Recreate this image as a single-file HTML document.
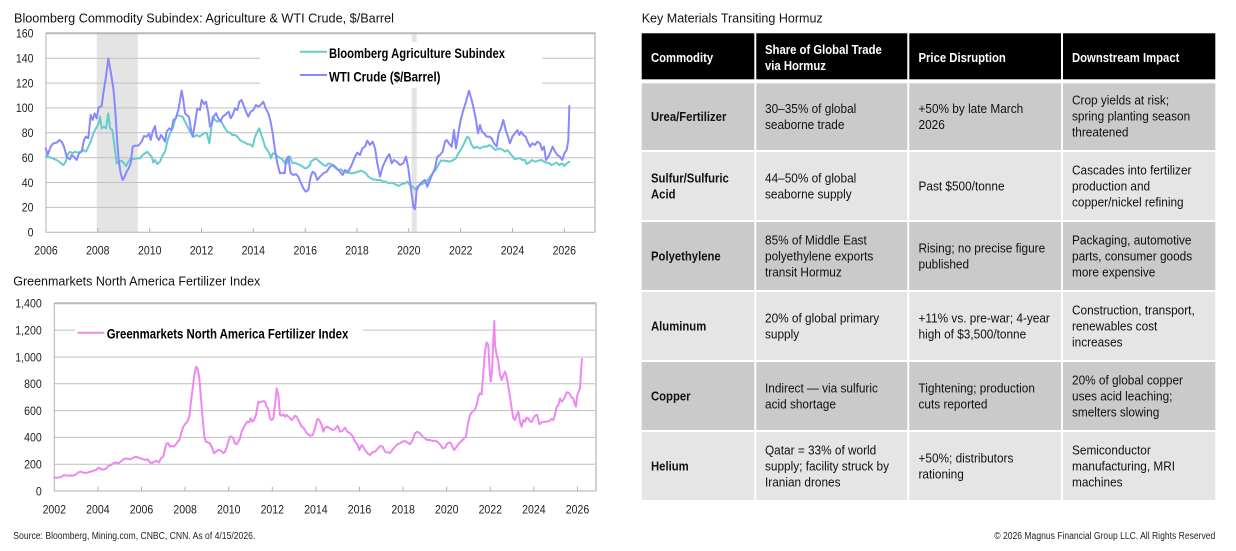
<!DOCTYPE html>
<html>
<head>
<meta charset="utf-8">
<style>
html,body{margin:0;padding:0;background:#fff;}
svg{display:block;}
text{font-family:"Liberation Sans",Arial,sans-serif;}
.ax{font-size:12px;fill:#222;}
.ln{fill:none;stroke-width:6;stroke-linejoin:round;stroke-linecap:round;}
.tb{font-size:13px;fill:#111;}
.tbb{font-size:13px;fill:#111;font-weight:bold;}
.th{font-size:13px;fill:#fff;font-weight:bold;}
</style>
</head>
<body>
<svg width="1236" height="551" viewBox="0 0 1236 551">
<rect width="1236" height="551" fill="#fff"/>

<!-- ============ TOP CHART ============ -->
<text x="14" y="22.7" font-size="13" fill="#111" textLength="380" lengthAdjust="spacingAndGlyphs">Bloomberg Commodity Subindex: Agriculture  &amp; WTI Crude, $/Barrel</text>

<!-- shading -->
<rect x="96.7" y="33.3" width="41" height="199" fill="#e4e4e4"/>
<rect x="411.7" y="33.3" width="5" height="199" fill="#e4e4e4"/>

<!-- gridlines -->
<g stroke="#c0c0c0" stroke-width="1">
<line x1="46" y1="58.2" x2="595" y2="58.2"/>
<line x1="46" y1="83.1" x2="595" y2="83.1"/>
<line x1="46" y1="107.9" x2="595" y2="107.9"/>
<line x1="46" y1="132.8" x2="595" y2="132.8"/>
<line x1="46" y1="157.7" x2="595" y2="157.7"/>
<line x1="46" y1="182.5" x2="595" y2="182.5"/>
<line x1="46" y1="207.4" x2="595" y2="207.4"/>
</g>
<line x1="46" y1="33.3" x2="596" y2="33.3" stroke="#b8b8b8" stroke-width="2"/>
<line x1="595" y1="33" x2="595" y2="232.3" stroke="#d0d0d0" stroke-width="2"/>
<line x1="46" y1="33" x2="46" y2="232.3" stroke="#b0b0b0" stroke-width="1"/>
<line x1="46" y1="232.3" x2="595" y2="232.3" stroke="#b0b0b0" stroke-width="1"/>
<g stroke="#b0b0b0" stroke-width="1">
<line x1="97.8" y1="228" x2="97.8" y2="232.3"/><line x1="149.7" y1="228" x2="149.7" y2="232.3"/>
<line x1="201.5" y1="228" x2="201.5" y2="232.3"/><line x1="253.3" y1="228" x2="253.3" y2="232.3"/>
<line x1="305.2" y1="228" x2="305.2" y2="232.3"/><line x1="357" y1="228" x2="357" y2="232.3"/>
<line x1="408.8" y1="228" x2="408.8" y2="232.3"/><line x1="460.7" y1="228" x2="460.7" y2="232.3"/>
<line x1="512.5" y1="228" x2="512.5" y2="232.3"/><line x1="564.3" y1="228" x2="564.3" y2="232.3"/>
</g>

<!-- legend box -->
<rect x="260" y="42" width="282" height="46" fill="#fff"/>

<!-- y labels -->
<g class="ax" text-anchor="end">
<text transform="translate(33.5,37.6) scale(.88,1)">160</text>
<text transform="translate(33.5,62.5) scale(.88,1)">140</text>
<text transform="translate(33.5,87.4) scale(.88,1)">120</text>
<text transform="translate(33.5,112.2) scale(.88,1)">100</text>
<text transform="translate(33.5,137.1) scale(.88,1)">80</text>
<text transform="translate(33.5,162) scale(.88,1)">60</text>
<text transform="translate(33.5,186.8) scale(.88,1)">40</text>
<text transform="translate(33.5,211.7) scale(.88,1)">20</text>
<text transform="translate(33.5,236.6) scale(.88,1)">0</text>
</g>
<!-- x labels -->
<g class="ax" text-anchor="middle">
<text transform="translate(46,254.5) scale(.88,1)">2006</text>
<text transform="translate(97.8,254.5) scale(.88,1)">2008</text>
<text transform="translate(149.7,254.5) scale(.88,1)">2010</text>
<text transform="translate(201.5,254.5) scale(.88,1)">2012</text>
<text transform="translate(253.3,254.5) scale(.88,1)">2014</text>
<text transform="translate(305.2,254.5) scale(.88,1)">2016</text>
<text transform="translate(357,254.5) scale(.88,1)">2018</text>
<text transform="translate(408.8,254.5) scale(.88,1)">2020</text>
<text transform="translate(460.7,254.5) scale(.88,1)">2022</text>
<text transform="translate(512.5,254.5) scale(.88,1)">2024</text>
<text transform="translate(564.3,254.5) scale(.88,1)">2026</text>
</g>

<!-- series: teal (agri) -->
<g transform="scale(0.333333)">
<polyline class="ln" stroke="#66cccc" points="137,470 150,472 165,478 175,483 183,490 190,495 197,485 203,465 210,455 218,460 225,455 235,458 242,455 250,450 258,455 265,440 272,425 280,400 288,385 296,370 300,350 305,385 312,380 318,385 325,340 330,385 337,390 345,450 350,490 357,485 365,482 372,490 378,498 385,485 392,475 400,478 410,475 420,475 428,465 435,460 442,455 450,465 455,470 460,488 465,480 472,492 480,485 487,468 495,455 503,420 510,400 518,385 525,360 532,345 540,348 548,350 555,365 562,378 570,395 577,405 583,410 590,405 598,410 605,405 612,400 620,398 628,430 632,400 638,350 645,360 652,365 660,360 667,370 675,385 682,395 690,398 697,405 705,405 712,410 720,420 728,425 735,428 742,432 750,433 758,440 765,410 772,395 778,385 782,400 788,415 795,440 802,450 808,460 813,475 818,460 825,462 832,468 840,474 847,478 855,490 860,490 866,470 870,470 877,490 885,488 892,492 900,495 908,500 915,505 922,503 930,495 932,488"/>
</g>
<g transform="translate(300,0) scale(0.333333)">
<polyline class="ln" stroke="#66cccc" points="32,485 40,480 48,475 55,482 62,488 70,495 78,498 85,490 93,492 100,498 108,505 115,510 123,508 130,514 138,518 145,518 155,520 165,518 175,515 182,512 190,515 198,520 205,530 213,535 220,538 230,540 240,540 250,545 258,545 265,550 272,548 280,550 290,555 297,558 305,552 315,550 322,545 330,555 338,560 345,568 352,560 360,555 370,550 380,545 390,530 398,520 408,508 415,495 422,482 430,482 440,483 450,485 460,480 468,475 475,460 482,450 490,435 497,420 502,410 508,415 515,435 522,445 530,440 540,445 550,440 560,440 568,435 576,440 585,450 592,448 600,445 608,450 616,455 622,450 630,460 637,468 645,478 652,475 660,475 667,480 675,480 680,492 688,488 695,480 705,485 715,482 725,480 732,485 740,488 748,490 755,495 762,492 770,488 778,495 786,490 793,498 800,490 808,485"/>
</g>
<!-- series: purple (WTI) -->
<g transform="scale(0.333333)">
<polyline class="ln" stroke="#8888ff" points="137,445 143,465 152,440 160,430 170,428 178,420 185,425 192,440 200,470 210,478 215,465 222,470 230,480 237,460 245,455 252,420 258,410 265,415 272,345 278,360 284,340 290,355 296,322 305,318 310,280 318,230 325,175 333,220 340,265 345,320 350,400 356,480 362,520 368,540 374,530 380,515 386,505 392,490 398,440 405,437 415,437 425,425 432,408 440,410 447,400 452,420 458,395 465,378 470,410 477,420 483,405 490,415 495,425 500,395 508,385 515,390 520,360 527,355 535,330 545,272 550,300 555,340 560,345 567,350 573,390 578,410 585,370 592,325 600,330 605,300 612,312 618,305 625,340 630,380 636,370 641,350 648,340 655,355 662,365 668,350 675,345 680,340 686,335 692,355 698,345 705,325 712,330 718,305 725,300 732,320 738,335 745,350 752,335 760,330 768,315 775,320 782,315 790,305 797,325 805,340 812,365 818,400 825,450 832,490 840,520 848,518 854,520 858,480 865,470 872,520 880,525 888,522 895,530 903,550 910,565 917,575 925,570 930,540 932,532"/>
</g>
<g transform="translate(300,0) scale(0.333333)">
<polyline class="ln" stroke="#8888ff" points="32,530 38,515 45,520 52,540 60,530 70,520 80,515 90,500 100,495 110,505 120,515 128,525 135,510 145,515 155,495 165,470 172,458 180,465 187,445 195,440 202,422 210,435 218,425 225,445 232,490 240,530 248,500 255,485 262,470 268,462 275,490 282,480 290,485 300,495 310,490 318,470 325,505 332,560 340,620 345,628 350,570 358,555 367,545 375,540 382,560 390,540 398,520 405,505 412,470 420,465 428,455 435,425 440,420 447,430 455,440 462,390 468,445 475,400 482,360 490,330 498,305 507,272 515,300 522,330 528,360 534,400 540,375 546,395 552,400 560,410 568,410 575,415 582,430 590,440 596,400 603,385 610,360 617,390 624,410 630,430 637,410 645,400 652,390 658,405 663,395 670,405 677,410 683,425 690,440 697,430 705,435 712,425 720,430 726,450 732,440 738,480 745,470 752,455 758,440 765,455 772,465 780,470 787,480 793,460 800,450 805,420 808,318"/>
</g>

<!-- legend -->
<line x1="300" y1="51.7" x2="327" y2="51.7" stroke="#66cccc" stroke-width="2"/>
<line x1="300" y1="75" x2="327" y2="75" stroke="#8888ff" stroke-width="2"/>
<text x="329" y="58" font-size="14" font-weight="bold" fill="#000" textLength="176" lengthAdjust="spacingAndGlyphs">Bloomberg Agriculture Subindex</text>
<text x="329" y="81.3" font-size="14" font-weight="bold" fill="#000" textLength="111.5" lengthAdjust="spacingAndGlyphs">WTI Crude ($/Barrel)</text>

<!-- ============ BOTTOM CHART ============ -->
<text x="13.3" y="285.7" font-size="13" fill="#111" textLength="247" lengthAdjust="spacingAndGlyphs">Greenmarkets North America Fertilizer Index</text>

<g stroke="#c0c0c0" stroke-width="1">
<line x1="54.3" y1="330.1" x2="596" y2="330.1"/>
<line x1="54.3" y1="357" x2="596" y2="357"/>
<line x1="54.3" y1="383.8" x2="596" y2="383.8"/>
<line x1="54.3" y1="410.6" x2="596" y2="410.6"/>
<line x1="54.3" y1="437.4" x2="596" y2="437.4"/>
<line x1="54.3" y1="464.2" x2="596" y2="464.2"/>
</g>
<line x1="54.3" y1="303.3" x2="597" y2="303.3" stroke="#b8b8b8" stroke-width="2"/>
<line x1="596" y1="303" x2="596" y2="491" stroke="#d0d0d0" stroke-width="2"/>
<line x1="54.3" y1="303" x2="54.3" y2="491" stroke="#b0b0b0" stroke-width="1"/>
<line x1="54.3" y1="491" x2="596" y2="491" stroke="#b0b0b0" stroke-width="1"/>
<g stroke="#b0b0b0" stroke-width="1">
<line x1="97.9" y1="486.7" x2="97.9" y2="491"/><line x1="141.5" y1="486.7" x2="141.5" y2="491"/>
<line x1="185.1" y1="486.7" x2="185.1" y2="491"/><line x1="228.7" y1="486.7" x2="228.7" y2="491"/>
<line x1="272.3" y1="486.7" x2="272.3" y2="491"/><line x1="315.9" y1="486.7" x2="315.9" y2="491"/>
<line x1="359.5" y1="486.7" x2="359.5" y2="491"/><line x1="403.1" y1="486.7" x2="403.1" y2="491"/>
<line x1="446.7" y1="486.7" x2="446.7" y2="491"/><line x1="490.3" y1="486.7" x2="490.3" y2="491"/>
<line x1="533.9" y1="486.7" x2="533.9" y2="491"/><line x1="577.5" y1="486.7" x2="577.5" y2="491"/>
</g>

<rect x="75" y="320" width="288" height="25" fill="#fff"/>

<g class="ax" text-anchor="end">
<text transform="translate(41.7,307.6) scale(.88,1)">1,400</text>
<text transform="translate(41.7,334.4) scale(.88,1)">1,200</text>
<text transform="translate(41.7,361.3) scale(.88,1)">1,000</text>
<text transform="translate(41.7,388.1) scale(.88,1)">800</text>
<text transform="translate(41.7,414.9) scale(.88,1)">600</text>
<text transform="translate(41.7,441.7) scale(.88,1)">400</text>
<text transform="translate(41.7,468.5) scale(.88,1)">200</text>
<text transform="translate(41.7,495.3) scale(.88,1)">0</text>
</g>
<g class="ax" text-anchor="middle">
<text transform="translate(54.3,513.5) scale(.88,1)">2002</text>
<text transform="translate(97.9,513.5) scale(.88,1)">2004</text>
<text transform="translate(141.5,513.5) scale(.88,1)">2006</text>
<text transform="translate(185.1,513.5) scale(.88,1)">2008</text>
<text transform="translate(228.7,513.5) scale(.88,1)">2010</text>
<text transform="translate(272.3,513.5) scale(.88,1)">2012</text>
<text transform="translate(315.9,513.5) scale(.88,1)">2014</text>
<text transform="translate(359.5,513.5) scale(.88,1)">2016</text>
<text transform="translate(403.1,513.5) scale(.88,1)">2018</text>
<text transform="translate(446.7,513.5) scale(.88,1)">2020</text>
<text transform="translate(490.3,513.5) scale(.88,1)">2022</text>
<text transform="translate(533.9,513.5) scale(.88,1)">2024</text>
<text transform="translate(577.5,513.5) scale(.88,1)">2026</text>
</g>

<g transform="translate(0,265) scale(0.333333)">
<polyline class="ln" stroke="#ee88ee" points="163,638 175,638 185,635 192,630 200,632 210,632 220,632 228,628 235,622 242,620 250,623 258,624 265,622 272,620 280,617 288,615 295,608 302,612 310,614 318,611 325,603 333,600 340,595 348,592 355,595 362,590 370,583 378,580 385,582 392,583 400,578 407,575 413,577 420,580 428,582 435,585 442,583 448,590 455,595 462,590 470,588 477,592 483,580 490,575 495,550 500,535 505,535 510,545 515,543 522,545 530,535 538,525 545,500 550,485 555,478 562,470 568,455 573,410 578,370 583,330 588,305 593,310 598,340 603,400 608,460 613,515 618,530 623,532 630,535 637,550 642,565 648,560 655,555 662,556 670,565 675,560 680,548 685,530 690,515 695,515 700,520 705,535 710,538 715,530 720,520 725,500 730,490 735,480 742,470 748,472 752,460 757,470 762,465 768,450 775,410 780,412 785,410 790,408 795,410 800,425 805,432 810,460 815,465 820,460 825,420 830,370 835,390 840,450 845,452 850,448 855,455 860,450 865,455 870,460 875,465 880,460 885,452 890,455 895,465 900,475 905,485 910,488 915,495 920,505 925,508 930,512"/>
</g>
<g transform="translate(300,265) scale(0.333333)">
<polyline class="ln" stroke="#ee88ee" points="30,512 38,510 45,490 52,462 58,465 65,480 70,500 75,488 82,485 90,490 98,495 105,492 113,482 120,500 127,498 135,488 142,500 150,505 157,512 165,530 172,538 178,555 185,540 190,545 195,555 203,565 210,570 217,562 225,560 232,552 240,543 248,545 255,560 262,562 270,564 277,555 285,545 292,538 300,535 307,530 315,528 322,532 330,538 338,525 345,505 352,500 360,505 368,515 375,520 382,525 390,525 398,528 405,527 412,530 420,538 428,550 435,548 442,535 450,532 455,540 462,555 470,545 477,535 485,528 492,520 498,515 503,480 510,450 517,440 524,435 530,420 535,395 540,385 545,388 550,320 555,260 560,232 565,240 568,300 572,350 576,320 580,225 583,168 585,240 590,270 595,290 600,330 605,345 610,330 615,320 620,335 625,365 630,395 635,430 640,460 645,465 650,450 655,440 660,470 665,485 670,465 675,470 680,458 685,460 690,470 695,470 700,460 705,452 712,450 718,478 725,472 732,470 740,470 748,468 755,462 760,465 765,450 770,425 775,420 780,400 785,410 790,405 795,395 800,382 808,385 815,398 820,400 825,420 828,425 832,390 836,380 840,370 843,320 846,282"/>
</g>

<line x1="77.7" y1="332.7" x2="104.3" y2="332.7" stroke="#ee88ee" stroke-width="2"/>
<text x="106.7" y="338.6" font-size="14" font-weight="bold" fill="#000" textLength="241.6" lengthAdjust="spacingAndGlyphs">Greenmarkets North America Fertilizer Index</text>

<!-- footers -->
<text x="13.3" y="539" font-size="10" fill="#222" textLength="242" lengthAdjust="spacingAndGlyphs">Source: Bloomberg, Mining.com, CNBC, CNN. As of 4/15/2026.</text>
<text x="994.3" y="539" font-size="10" fill="#222" textLength="221" lengthAdjust="spacingAndGlyphs">© 2026 Magnus Financial Group LLC. All Rights Reserved</text>

<!-- ============ TABLE ============ -->
<text x="641.7" y="22.7" font-size="13" fill="#111" textLength="181" lengthAdjust="spacingAndGlyphs">Key Materials Transiting Hormuz</text>

<!-- header -->
<rect x="641.7" y="33.3" width="112.6" height="46" fill="#000"/>
<rect x="756.3" y="33.3" width="151" height="46" fill="#000"/>
<rect x="909.3" y="33.3" width="151.7" height="46" fill="#000"/>
<rect x="1063" y="33.3" width="152.3" height="46" fill="#000"/>

<!-- rows -->
<g fill="#cacaca">
<rect x="641.7" y="83.3" width="112.6" height="66.7"/><rect x="756.3" y="83.3" width="151" height="66.7"/><rect x="909.3" y="83.3" width="151.7" height="66.7"/><rect x="1063" y="83.3" width="152.3" height="66.7"/>
<rect x="641.7" y="222" width="112.6" height="68"/><rect x="756.3" y="222" width="151" height="68"/><rect x="909.3" y="222" width="151.7" height="68"/><rect x="1063" y="222" width="152.3" height="68"/>
<rect x="641.7" y="362" width="112.6" height="68"/><rect x="756.3" y="362" width="151" height="68"/><rect x="909.3" y="362" width="151.7" height="68"/><rect x="1063" y="362" width="152.3" height="68"/>
</g>
<g fill="#e5e5e5">
<rect x="641.7" y="152" width="112.6" height="68"/><rect x="756.3" y="152" width="151" height="68"/><rect x="909.3" y="152" width="151.7" height="68"/><rect x="1063" y="152" width="152.3" height="68"/>
<rect x="641.7" y="292" width="112.6" height="68"/><rect x="756.3" y="292" width="151" height="68"/><rect x="909.3" y="292" width="151.7" height="68"/><rect x="1063" y="292" width="152.3" height="68"/>
<rect x="641.7" y="432" width="112.6" height="68"/><rect x="756.3" y="432" width="151" height="68"/><rect x="909.3" y="432" width="151.7" height="68"/><rect x="1063" y="432" width="152.3" height="68"/>
</g>

<!-- header text -->
<g transform="translate(651,0) scale(.87,1)"><text class="th" x="0" y="62">Commodity</text></g>
<g transform="translate(765,0) scale(.87,1)"><text class="th" x="0" y="53.8">Share of Global Trade</text><text class="th" x="0" y="69.8">via Hormuz</text></g>
<g transform="translate(918.5,0) scale(.87,1)"><text class="th" x="0" y="62">Price Disruption</text></g>
<g transform="translate(1072,0) scale(.87,1)"><text class="th" x="0" y="62">Downstream Impact</text></g>

<!-- column 1 -->
<g transform="translate(651,0) scale(.87,1)">
<text class="tbb" x="0" y="121.2">Urea/Fertilizer</text>
<text class="tbb" x="0" y="182.5">Sulfur/Sulfuric</text>
<text class="tbb" x="0" y="198.5">Acid</text>
<text class="tbb" x="0" y="260.5">Polyethylene</text>
<text class="tbb" x="0" y="330.5">Aluminum</text>
<text class="tbb" x="0" y="400.5">Copper</text>
<text class="tbb" x="0" y="470.5">Helium</text>
</g>
<!-- column 2 -->
<g transform="translate(765,0) scale(.91,1)">
<text class="tb" x="0" y="113.2">30–35% of global</text>
<text class="tb" x="0" y="129.2">seaborne trade</text>
<text class="tb" x="0" y="182.5">44–50% of global</text>
<text class="tb" x="0" y="198.5">seaborne supply</text>
<text class="tb" x="0" y="244.5">85% of Middle East</text>
<text class="tb" x="0" y="260.5">polyethylene exports</text>
<text class="tb" x="0" y="276.5">transit Hormuz</text>
<text class="tb" x="0" y="322.5">20% of global primary</text>
<text class="tb" x="0" y="338.5">supply</text>
<text class="tb" x="0" y="392.5">Indirect — via sulfuric</text>
<text class="tb" x="0" y="408.5">acid shortage</text>
<text class="tb" x="0" y="454.5">Qatar = 33% of world</text>
<text class="tb" x="0" y="470.5">supply; facility struck by</text>
<text class="tb" x="0" y="486.5">Iranian drones</text>
</g>
<!-- column 3 -->
<g transform="translate(918.5,0) scale(.91,1)">
<text class="tb" x="0" y="113.2">+50% by late March</text>
<text class="tb" x="0" y="129.2">2026</text>
<text class="tb" x="0" y="190.5">Past $500/tonne</text>
<text class="tb" x="0" y="252.5">Rising; no precise figure</text>
<text class="tb" x="0" y="268.5">published</text>
<text class="tb" x="0" y="322.5">+11% vs. pre-war; 4-year</text>
<text class="tb" x="0" y="338.5">high of $3,500/tonne</text>
<text class="tb" x="0" y="392.5">Tightening; production</text>
<text class="tb" x="0" y="408.5">cuts reported</text>
<text class="tb" x="0" y="462.5">+50%; distributors</text>
<text class="tb" x="0" y="478.5">rationing</text>
</g>
<!-- column 4 -->
<g transform="translate(1072,0) scale(.91,1)">
<text class="tb" x="0" y="104.7">Crop yields at risk;</text>
<text class="tb" x="0" y="120.7">spring planting season</text>
<text class="tb" x="0" y="136.7">threatened</text>
<text class="tb" x="0" y="174.5">Cascades into fertilizer</text>
<text class="tb" x="0" y="190.5">production and</text>
<text class="tb" x="0" y="206.5">copper/nickel refining</text>
<text class="tb" x="0" y="244.5">Packaging, automotive</text>
<text class="tb" x="0" y="260.5">parts, consumer goods</text>
<text class="tb" x="0" y="276.5">more expensive</text>
<text class="tb" x="0" y="314.5">Construction, transport,</text>
<text class="tb" x="0" y="330.5">renewables cost</text>
<text class="tb" x="0" y="346.5">increases</text>
<text class="tb" x="0" y="384.5">20% of global copper</text>
<text class="tb" x="0" y="400.5">uses acid leaching;</text>
<text class="tb" x="0" y="416.5">smelters slowing</text>
<text class="tb" x="0" y="454.5">Semiconductor</text>
<text class="tb" x="0" y="470.5">manufacturing, MRI</text>
<text class="tb" x="0" y="486.5">machines</text>
</g>
</svg>
</body>
</html>
